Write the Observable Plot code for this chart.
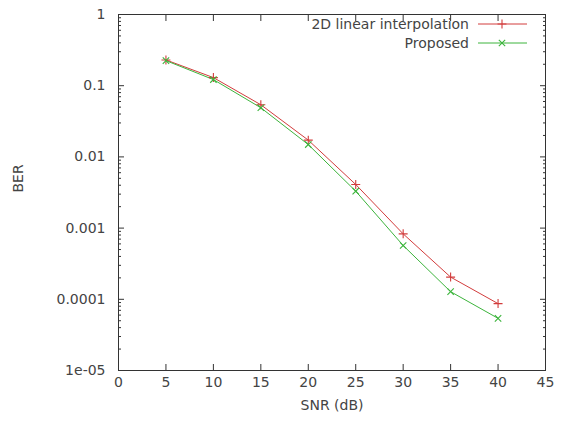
<!DOCTYPE html>
<html><head><meta charset="utf-8">
<script src="https://cdn.jsdelivr.net/npm/d3@7"></script>
<script src="https://cdn.jsdelivr.net/npm/@observablehq/plot@0.6"></script>
<style>
body{margin:0;background:#fff;}
#chart{width:567px;height:422px;}
</style></head><body><div id="chart"></div>
<script>
const snr = [5, 10, 15, 20, 25, 30, 35, 40];
const berLinear = [0.23, 0.13, 0.054, 0.0172, 0.0041, 0.00083, 0.000205, 0.000087];
const berProposed = [0.225, 0.122, 0.049, 0.0149, 0.0033, 0.00057, 0.000128, 0.000054];
const seriesNames = ["2D linear interpolation", "Proposed"];
const seriesColors = ["#d23c3c", "#3cb43c"];
const seriesSymbols = ["plus", "times"];
const xTicks = [0, 5, 10, 15, 20, 25, 30, 35, 40, 45];
const yTicks = [1, 0.1, 0.01, 0.001, 0.0001, 0.00001];
const yTickLabels = ["1", "0.1", "0.01", "0.001", "0.0001", "1e-05"];

const rows = [];
snr.forEach((s, i) => rows.push({snr: s, ber: berLinear[i], series: seriesNames[0]}));
snr.forEach((s, i) => rows.push({snr: s, ber: berProposed[i], series: seriesNames[1]}));

const minorTicks = [];
for (let e = -5; e < 0; e++) for (let m = 2; m <= 9; m++) minorTicks.push(m * Math.pow(10, e));

const fmtY = d => yTickLabels[yTicks.findIndex(t => Math.abs(t - d) / d < 1e-6)] ?? "";
const axisColor = "#333";
const textColor = "#444";
const fontSize = 14;

const plot = Plot.plot({
  width: 567, height: 422,
  marginLeft: 118, marginRight: 22, marginTop: 14, marginBottom: 52,
  style: {fontFamily: "DejaVu Sans, sans-serif", fontSize: fontSize + "px", color: textColor, background: "#fff"},
  x: {domain: [0, 45]},
  y: {type: "log", domain: [1e-5, 1]},
  color: {domain: seriesNames, range: seriesColors},
  symbol: {domain: seriesNames, range: seriesSymbols},
  marks: [
    Plot.frame({stroke: axisColor}),
    Plot.axisY({ticks: yTicks, tickSize: -6, tickPadding: 19, tickFormat: fmtY, label: null, stroke: axisColor, fontSize}),
    Plot.axisY({anchor: "right", ticks: yTicks, tickSize: -6, tickFormat: () => "", label: null, stroke: axisColor}),
    Plot.axisY({ticks: minorTicks, tickSize: -3, tickFormat: () => "", label: null, stroke: axisColor}),
    Plot.axisY({anchor: "right", ticks: minorTicks, tickSize: -3, tickFormat: () => "", label: null, stroke: axisColor}),
    Plot.axisX({ticks: xTicks, tickSize: -6, tickPadding: 13, tickFormat: d => String(d), label: null, stroke: axisColor, fontSize}),
    Plot.axisX({anchor: "top", ticks: xTicks, tickSize: -6, tickFormat: () => "", label: null, stroke: axisColor}),
    Plot.text(["SNR (dB)"], {frameAnchor: "bottom", dy: 35, lineAnchor: "middle", fill: textColor, fontSize}),
    Plot.text(["BER"], {frameAnchor: "left", dx: -100, rotate: -90, lineAnchor: "middle", fill: textColor, fontSize}),
    Plot.line(rows, {x: "snr", y: "ber", z: "series", stroke: "series", strokeWidth: 1}),
    Plot.dot(rows, {x: "snr", y: "ber", stroke: "series", symbol: "series", r: 3, strokeWidth: 1.1})
  ]
});
document.getElementById("chart").appendChild(plot);

// legend (gnuplot-style key inside top right)
const svg = d3.select(plot);
const key = svg.append("g").attr("font-family", "DejaVu Sans, sans-serif").attr("font-size", fontSize);
seriesNames.forEach((name, i) => {
  const y = 24 + i * 19;
  key.append("text").attr("x", 469).attr("y", y).attr("dy", "0.35em").attr("text-anchor", "end").attr("fill", textColor).text(name);
  key.append("line").attr("x1", 478).attr("x2", 527).attr("y1", y).attr("y2", y).attr("stroke", seriesColors[i]).attr("stroke-width", 1);
  key.append("path").attr("transform", `translate(502,${y})`)
    .attr("d", d3.symbol(seriesSymbols[i] === "plus" ? d3.symbolPlus : d3.symbolTimes, 28)())
    .attr("fill", "none").attr("stroke", seriesColors[i]).attr("stroke-width", 1.1);
});
</script>
</body></html>
